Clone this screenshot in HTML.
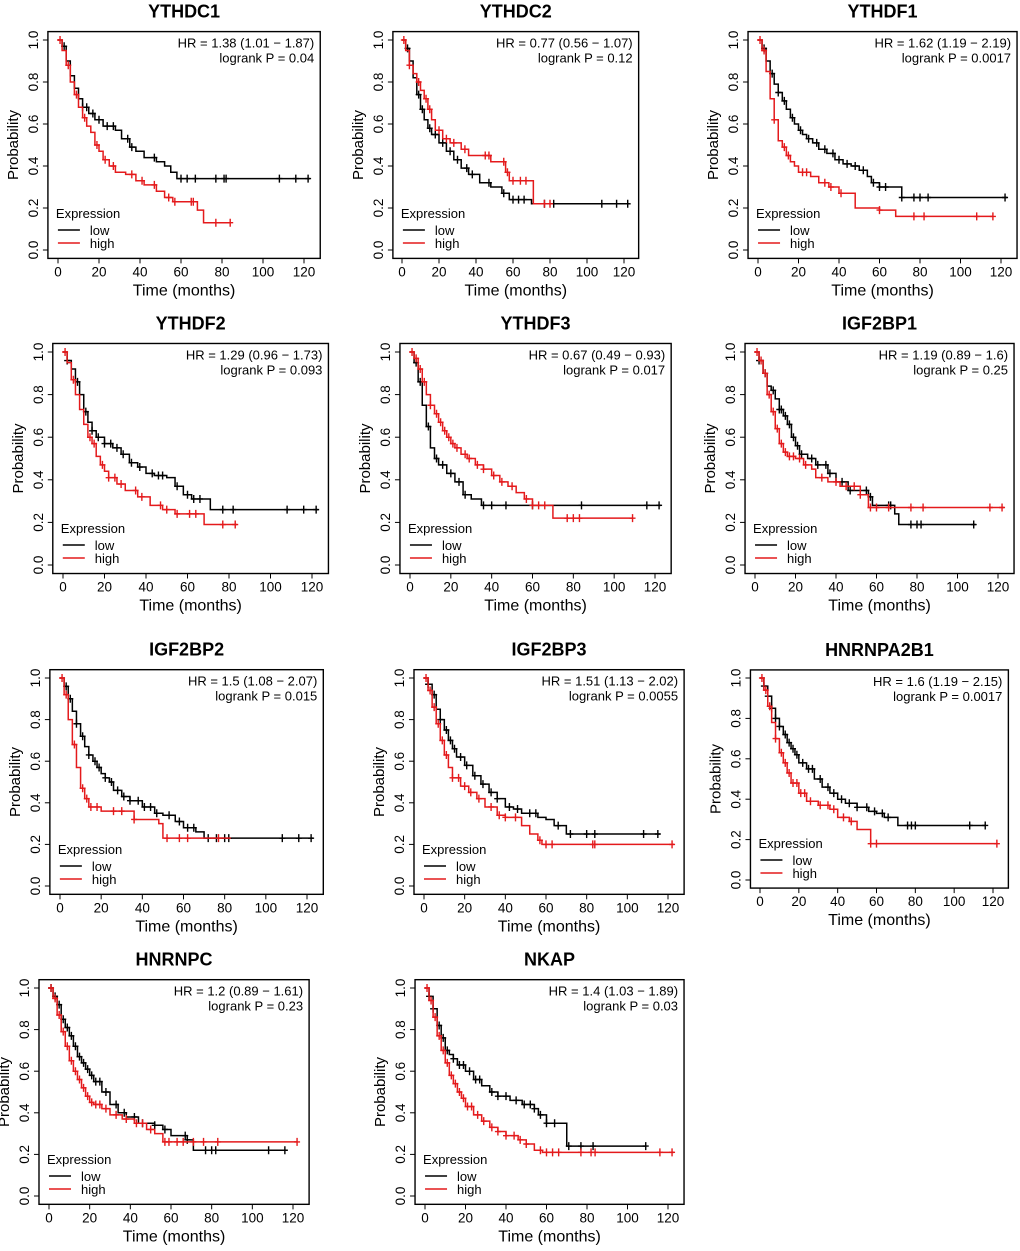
<!DOCTYPE html>
<html><head><meta charset="utf-8">
<style>
html,body{margin:0;padding:0;background:#fff;}
svg{display:block;font-family:"Liberation Sans",sans-serif;}
</style></head>
<body>
<svg id="chart" width="1020" height="1251" viewBox="0 0 1020 1251" xmlns="http://www.w3.org/2000/svg"></svg>
<script>
const panelTitles = ["YTHDC1","YTHDC2","YTHDF1","YTHDF2","YTHDF3","IGF2BP1","IGF2BP2","IGF2BP3","HNRNPA2B1","HNRNPC","NKAP"];
const hrTexts = ["HR = 1.38 (1.01 \u2212 1.87)","HR = 0.77 (0.56 \u2212 1.07)","HR = 1.62 (1.19 \u2212 2.19)","HR = 1.29 (0.96 \u2212 1.73)","HR = 0.67 (0.49 \u2212 0.93)","HR = 1.19 (0.89 \u2212 1.6)","HR = 1.5 (1.08 \u2212 2.07)","HR = 1.51 (1.13 \u2212 2.02)","HR = 1.6 (1.19 \u2212 2.15)","HR = 1.2 (0.89 \u2212 1.61)","HR = 1.4 (1.03 \u2212 1.89)"];
const pTexts = ["logrank P = 0.04","logrank P = 0.12","logrank P = 0.0017","logrank P = 0.093","logrank P = 0.017","logrank P = 0.25","logrank P = 0.015","logrank P = 0.0055","logrank P = 0.0017","logrank P = 0.23","logrank P = 0.03"];
const xTicks = [0,20,40,60,80,100,120];
const yTicks = [0,0.2,0.4,0.6,0.8,1.0];
const yTickLabels = ["0.0","0.2","0.4","0.6","0.8","1.0"];

const lowTimes = [
[0,2,4,6,8,10,12,15,18,22,28,31,35,38,42,48,52,55,58,123],
[0,2,4,6,8,10,12,14,16,20,24,28,32,36,42,48,54,58,70,123],
[0,2,4,6,8,10,12,14,16,18,20,22,24,27,30,34,38,42,46,50,54,56,60,71,123],
[0,2,4,6,8,10,12,14,16,20,24,28,32,36,40,44,50,54,58,62,71,123],
[0,2,4,6,8,10,12,14,18,22,26,30,35,123],
[0,2,4,6,8,10,12,14,16,18,20,22,26,30,36,40,46,54,56,58,67,69,71,109],
[0,2,4,6,8,10,12,14,16,18,20,22,24,26,30,34,40,46,50,56,60,66,70,123],
[0,2,4,6,8,10,12,14,16,20,24,28,32,36,40,44,48,56,60,64,70,116],
[0,2,4,6,8,10,12,14,16,18,20,24,28,32,36,40,44,50,56,60,64,68,71,116],
[0,2,4,6,8,10,12,14,16,18,20,22,26,30,34,38,44,52,56,60,68,71,116],
[0,2,4,6,8,10,12,14,16,20,24,28,32,36,42,48,54,56,60,68,70,109]];
const lowSurv = [
[1,.97,.9,.83,.77,.72,.68,.65,.62,.59,.57,.53,.49,.47,.44,.42,.40,.37,.34,.34],
[1,.96,.9,.82,.74,.67,.62,.58,.55,.51,.47,.43,.39,.36,.32,.3,.27,.24,.22,.22],
[1,.96,.9,.84,.79,.75,.71,.67,.63,.6,.57,.55,.53,.51,.48,.46,.43,.41,.4,.38,.35,.32,.3,.25,.25],
[1,.96,.92,.86,.8,.72,.67,.63,.6,.57,.55,.52,.48,.46,.43,.42,.41,.37,.33,.31,.26,.26],
[1,.95,.86,.75,.65,.55,.5,.47,.43,.39,.33,.31,.28,.28],
[1,.96,.9,.84,.82,.78,.73,.7,.66,.6,.56,.52,.5,.47,.43,.39,.35,.35,.32,.28,.28,.24,.19,.19],
[1,.96,.9,.84,.78,.72,.67,.63,.6,.57,.54,.52,.5,.46,.43,.41,.38,.35,.34,.31,.28,.26,.23,.23],
[1,.97,.92,.85,.8,.75,.7,.66,.62,.58,.53,.49,.45,.42,.38,.37,.35,.33,.32,.29,.25,.25],
[1,.96,.91,.85,.8,.76,.72,.68,.65,.62,.58,.55,.5,.46,.43,.4,.38,.36,.34,.33,.31,.31,.27,.27],
[1,.96,.92,.85,.81,.77,.72,.67,.64,.61,.58,.55,.5,.44,.4,.38,.35,.34,.32,.29,.27,.22,.22],
[1,.96,.9,.82,.76,.7,.68,.66,.63,.6,.56,.53,.5,.48,.46,.44,.42,.39,.35,.35,.24,.24]];
const lowCensor = [
[3,12,14,17,20,24,27,34,36,47,60,63,67,77,81,82,108,116,122],
[3,9,11,15,18,22,26,30,35,38,47,55,60,63,66,77,82,108,116,122],
[3,7,10,13,17,21,25,29,33,37,40,44,48,52,57,60,63,71,77,80,84,122],
[2,7,11,14,17,20,23,26,29,33,37,43,46,48,55,60,63,66,77,82,108,116,122],
[3,5,9,13,16,20,24,27,36,40,47,60,84,116,122],
[2,5,9,12,13,15,17,19,21,23,28,31,35,37,43,47,55,57,66,67,77,80,82,108],
[3,5,8,11,14,17,19,22,25,28,31,34,38,41,44,47,53,58,62,65,72,76,80,82,108,116,122],
[2,5,8,11,13,15,18,21,25,29,33,36,42,46,52,55,66,72,80,84,108,115],
[2,4,6,8,10,13,15,17,19,22,25,27,31,35,38,42,46,50,55,59,63,66,76,78,80,108,116],
[1,3,5,7,9,11,13,15,17,19,21,23,25,28,33,37,42,46,52,57,67,68,77,80,82,108,116],
[2,4,7,9,11,14,17,19,22,25,27,33,36,40,45,49,52,54,57,60,64,71,77,83,109]];
const highTimes = [
[0,2,4,6,8,10,12,14,16,18,20,22,25,28,33,38,42,48,52,56,68,71,84],
[0,2,4,6,8,10,12,14,16,18,22,26,32,36,48,56,58,71,80],
[0,2,4,6,8,10,12,14,16,18,20,26,30,35,40,48,60,68,116],
[0,2,4,6,8,10,12,14,16,18,20,22,26,30,36,42,48,54,68,84],
[0,2,4,6,8,10,12,14,16,18,20,22,25,28,32,36,40,44,48,52,56,60,70,109],
[0,2,4,6,8,10,12,14,16,20,24,28,30,36,42,52,56,123],
[0,2,4,6,8,10,12,14,20,36,48,50,83],
[0,2,4,6,8,10,12,14,18,22,26,30,36,40,48,52,56,58,123],
[0,2,4,6,8,10,12,14,16,20,24,30,36,40,46,50,56,57,122],
[0,2,4,6,8,10,12,14,16,18,20,22,26,30,36,42,48,52,56,122],
[0,2,4,6,8,10,12,14,16,18,20,24,28,32,36,40,46,50,54,58,123]];
const highSurv = [
[1,.95,.88,.8,.74,.68,.63,.59,.56,.5,.47,.43,.4,.37,.36,.33,.31,.28,.25,.23,.19,.13,.13],
[1,.95,.88,.84,.8,.76,.72,.67,.62,.57,.53,.51,.48,.45,.42,.37,.33,.22,.22],
[1,.95,.85,.72,.62,.52,.49,.45,.42,.4,.37,.35,.32,.3,.27,.2,.19,.16,.16],
[1,.95,.87,.8,.73,.66,.6,.57,.51,.47,.44,.41,.38,.35,.32,.28,.26,.24,.19,.19],
[1,.97,.92,.86,.8,.75,.71,.67,.63,.6,.57,.55,.52,.5,.47,.45,.42,.39,.37,.34,.31,.28,.22,.22],
[1,.96,.9,.8,.72,.64,.57,.53,.51,.5,.47,.45,.41,.39,.37,.33,.27,.27],
[1,.92,.8,.68,.57,.47,.42,.38,.36,.32,.3,.23,.23],
[1,.94,.86,.78,.7,.63,.57,.52,.48,.45,.42,.38,.34,.33,.29,.25,.22,.2,.2],
[1,.94,.86,.78,.7,.63,.58,.53,.48,.43,.39,.37,.35,.31,.29,.25,.25,.18,.18],
[1,.95,.87,.79,.72,.65,.6,.56,.52,.48,.45,.44,.42,.39,.37,.35,.32,.3,.26,.26],
[1,.94,.86,.77,.7,.64,.58,.54,.5,.47,.43,.39,.36,.33,.31,.29,.27,.25,.22,.21,.21]];
const highCensor = [
[1,5,9,13,19,23,27,36,41,47,54,57,65,66,77,84],
[1,4,9,13,15,20,24,28,34,45,47,55,57,60,64,67,77,80],
[1,3,8,13,15,22,24,33,36,41,60,77,82,108,116],
[1,5,13,15,19,22,25,28,35,38,47,50,55,61,64,77,83],
[1,3,5,7,10,13,15,17,19,21,23,27,29,33,36,41,45,50,57,60,63,66,77,80,83,109],
[1,3,5,7,9,11,13,15,17,19,22,25,33,40,45,49,52,57,60,66,77,83,116,122],
[1,3,7,11,13,15,18,26,30,36,52,58,62,77],
[1,3,5,7,9,11,14,17,20,23,27,33,37,40,45,57,60,63,83,84,122],
[1,3,5,8,11,13,15,17,19,21,23,26,31,35,38,43,47,57,60,122],
[1,3,5,7,9,11,13,15,17,19,21,23,25,28,33,38,43,46,50,57,59,63,66,71,76,83,122],
[1,3,5,7,9,11,13,15,17,19,21,23,26,29,33,36,40,44,47,50,57,60,63,66,77,82,84,116,122]];

const layout = [
[58,304,40,250],[402,624,40,250],[758,1001,40,250],
[63,312,352,565],[410,655,352,565],[755,998,352,565],
[60,307,678,886],[424,668,678,886],[760,993,678,880],
[49,293,988,1196],[425,668,988,1196]];

const NS="http://www.w3.org/2000/svg";
const svg=document.getElementById('chart');
function mk(tag,attrs,parent,text){const e=document.createElementNS(NS,tag);for(const k in attrs)e.setAttribute(k,attrs[k]);if(text!==undefined)e.textContent=text;parent.appendChild(e);return e;}
function survAt(ts,ss,t){let v=ss[0];for(let i=0;i<ts.length;i++){if(ts[i]<=t)v=ss[i];}return v;}

panelTitles.forEach((title,p)=>{
  const [x0,x120,y1,y0]=layout[p];
  const sx=(x120-x0)/120, sy=(y0-y1);
  const X=t=>x0+t*sx, Y=v=>y0-v*sy;
  const L=X(-4.92), R=X(127.92), T=Y(1.04), B=Y(-0.04);
  const g=mk('g',{},svg);
  
  
  const cx=(L+R)/2;
  const tt=mk('text',{x:cx,y:T-14,'text-anchor':'middle','font-size':18,'font-weight':'bold'},g,title);
  
  
  const box=mk('rect',{x:L,y:T,width:R-L,height:B-T,fill:'none',stroke:'#000','stroke-width':1.4},g);
  
  
  xTicks.forEach(v=>{
    mk('line',{x1:X(v),x2:X(v),y1:B,y2:B+5,stroke:'#000'},g);
    const lb=mk('text',{x:X(v),y:B+18,'text-anchor':'middle','font-size':13.5},g,String(v));
    
    
  });
  yTicks.forEach((v,i)=>{
    mk('line',{x1:L-5,x2:L,y1:Y(v),y2:Y(v),stroke:'#000'},g);
    const lb=mk('text',{x:L-10,y:Y(v),'text-anchor':'middle','font-size':13.5,transform:`rotate(-90 ${L-10} ${Y(v)})`},g,yTickLabels[i]);
    
    
  });
  const xl=mk('text',{x:cx,y:B+37,'text-anchor':'middle','font-size':16},g,'Time (months)');
  
  
  const ym=(T+B)/2;
  const yl=mk('text',{x:L-30,y:ym,'text-anchor':'middle','font-size':15,transform:`rotate(-90 ${L-30} ${ym})`},g,'Probability');
  
  
  const h1=mk('text',{x:R-6,y:T+16,'text-anchor':'end','font-size':13},g,hrTexts[p]);
  
  
  const h2=mk('text',{x:R-6,y:T+31,'text-anchor':'end','font-size':13},g,pTexts[p]);
  
  
  const series=[[lowTimes[p],lowSurv[p],lowCensor[p],'#000','low'],[highTimes[p],highSurv[p],highCensor[p],'#e41a1c','high']];
  series.forEach(([ts,ss,cs,col,nm])=>{
    let d=`M${X(ts[0])},${Y(ss[0])}`;
    for(let i=1;i<ts.length;i++){d+=` H${X(ts[i])} V${Y(ss[i])}`;}
    const path=mk('path',{d:d,fill:'none',stroke:col,'stroke-width':1.5},g);
    
    
    cs.forEach(t=>{
      const yy=Y(survAt(ts,ss,t)), xx=X(t);
      const c=mk('path',{d:`M${xx},${yy-4} V${yy+4} M${xx-3},${yy} H${xx+3}`,stroke:col,'stroke-width':1.4},g);
      
      
    });
  });
  const lg=mk('g',{},g);
  
  
  mk('text',{x:L+8,y:Y(0)-32,'font-size':13},lg,'Expression');
  mk('line',{x1:L+10,x2:L+32,y1:Y(0)-20,y2:Y(0)-20,stroke:'#000','stroke-width':1.5},lg);
  const le1=mk('text',{x:L+42,y:Y(0)-15,'font-size':13},lg,'low');
  
  
  mk('line',{x1:L+10,x2:L+32,y1:Y(0)-7,y2:Y(0)-7,stroke:'#e41a1c','stroke-width':1.5},lg);
  const le2=mk('text',{x:L+42,y:Y(0)-2,'font-size':13},lg,'high');
  
  
});
</script>
</body></html>
